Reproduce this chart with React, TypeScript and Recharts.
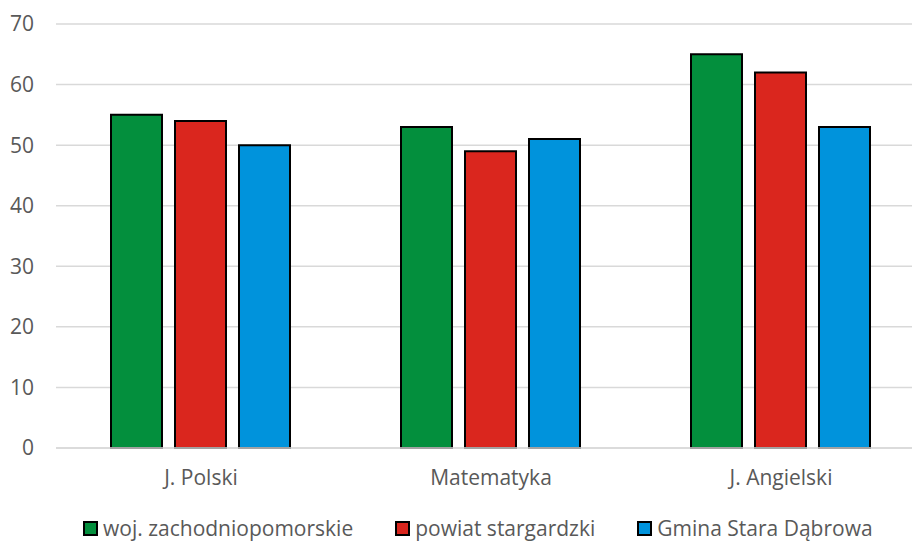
import { BarChart, Bar, XAxis, YAxis, CartesianGrid, Legend } from 'recharts';

const subjects = ['J. Polski', 'Matematyka', 'J. Angielski'];
const wojValues = [55, 53, 65];
const powiatValues = [54, 49, 62];
const gminaValues = [50, 51, 53];
const yTicks = [0, 10, 20, 30, 40, 50, 60, 70];

const SERIES = [
  { key: 'woj', name: 'woj. zachodniopomorskie', color: '#038F3D' },
  { key: 'powiat', name: 'powiat stargardzki', color: '#DA261E' },
  { key: 'gmina', name: 'Gmina Stara Dąbrowa', color: '#0093DC' },
];

const data = subjects.map((subject, i) => ({
  subject,
  woj: wojValues[i],
  powiat: powiatValues[i],
  gmina: gminaValues[i],
}));

const FONT = '"Open Sans", sans-serif';
const TEXT = '#595959';

function renderLegend() {
  return (
    <div
      style={{
        height: 26,
        display: 'flex',
        alignItems: 'center',
        paddingLeft: 83,
        fontFamily: FONT,
        fontSize: 21,
        color: TEXT,
        whiteSpace: 'nowrap',
      }}
    >
      {SERIES.map((s, i) => (
        <div key={s.key} style={{ display: 'flex', alignItems: 'center', marginRight: i < 2 ? 42 : 0 }}>
          <span
            style={{
              display: 'inline-block',
              width: 11,
              height: 11,
              background: s.color,
              border: '2px solid #000',
              marginRight: 5,
            }}
          />
          <span>{s.name}</span>
        </div>
      ))}
    </div>
  );
}

export default function App() {
  return (
    <div
      style={{
        position: 'fixed',
        left: 0,
        top: 0,
        width: 912,
        height: 541,
        overflow: 'hidden',
        background: '#fff',
      }}
    >
      <BarChart
        width={940}
        height={541}
        data={data}
        margin={{ top: 24, right: 14, left: 0, bottom: 0 }}
        barCategoryGap={55}
        barGap={13}
      >
        <CartesianGrid vertical={false} stroke="#d9d9d9" strokeWidth={1.5} />
        <XAxis
          dataKey="subject"
          axisLine={{ stroke: '#d9d9d9', strokeWidth: 1.5 }}
          tickLine={false}
          height={67}
          tickMargin={16}
          tick={{ fill: TEXT, fontSize: 21, fontFamily: FONT }}
        />
        <YAxis
          domain={[0, 70]}
          ticks={yTicks}
          width={56}
          axisLine={false}
          tickLine={false}
          tickMargin={16}
          tick={{ fill: TEXT, fontSize: 21, fontFamily: FONT }}
        />
        <Legend verticalAlign="bottom" align="left" content={renderLegend} />
        {SERIES.map((s) => (
          <Bar
            key={s.key}
            dataKey={s.key}
            name={s.name}
            fill={s.color}
            stroke="#000"
            strokeWidth={2}
            isAnimationActive={false}
          />
        ))}
      </BarChart>
    </div>
  );
}
